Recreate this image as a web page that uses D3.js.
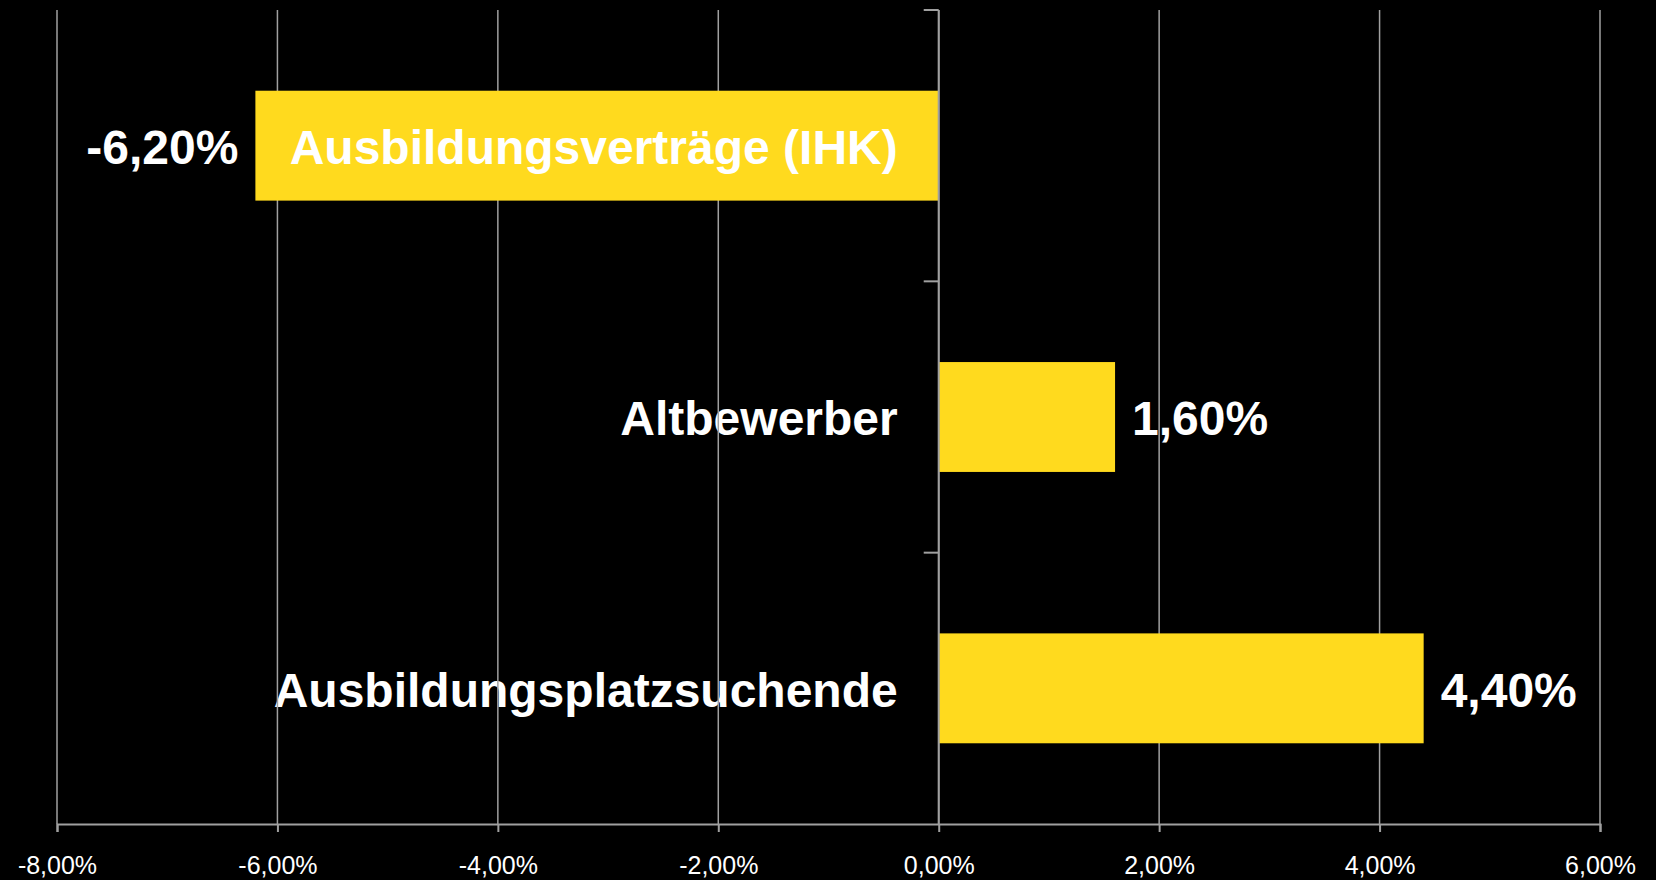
<!DOCTYPE html>
<html>
<head>
<meta charset="utf-8">
<script src="https://cdn.jsdelivr.net/npm/d3@7"></script>
<style>
  html, body { margin: 0; padding: 0; background: #000; }
  svg { display: block; }
</style>
</head>
<body>
<svg id="chart" width="1656" height="880"></svg>
<script>
// Data
const categories = ['Ausbildungsverträge (IHK)', 'Altbewerber', 'Ausbildungsplatzsuchende'];
const values = [-6.2, 1.6, 4.4];
const tickValues = [-8, -6, -4, -2, 0, 2, 4, 6];

const width = 1656;
const height = 880;
const plot = { left: 57, right: 1600, top: 10, bottom: 824 };

const gridColor = '#a0a0a0';
const barColor = '#ffda1e';
const font = 'Liberation Sans, Arial, sans-serif';

const de = d3.formatLocale({
  decimal: ',', thousands: '.', grouping: [3], currency: ['', ' €'], minus: '-',
});
const fmt = v => de.format('.2f')(v) + '%';

const data = categories.map((c, i) => ({ cat: c, value: values[i] }));

const x = d3.scaleLinear()
  .domain([tickValues[0], tickValues[tickValues.length - 1]])
  .range([plot.left, plot.right]);

const y = d3.scaleBand()
  .domain(categories)
  .range([plot.top, plot.bottom])
  .paddingInner(0.595)
  .paddingOuter(0.2975);

const svg = d3.select('#chart');
svg.append('rect').attr('width', width).attr('height', height).attr('fill', '#000');

// labels sitting under the gridlines
const below = svg.append('g').attr('class', 'labels-below');
const grid = svg.append('g').attr('class', 'grid');
const bars = svg.append('g').attr('class', 'bars');
const axis = svg.append('g').attr('class', 'axis');
const above = svg.append('g').attr('class', 'labels-above');

grid.selectAll('line')
  .data(tickValues)
  .join('line')
    .attr('x1', d => x(d)).attr('x2', d => x(d))
    .attr('y1', plot.top).attr('y2', plot.bottom)
    .attr('stroke', gridColor)
    .attr('stroke-width', 1.5);

bars.selectAll('rect')
  .data(data)
  .join('rect')
    .attr('x', d => x(Math.min(0, d.value)))
    .attr('width', d => Math.abs(x(d.value) - x(0)))
    .attr('y', d => y(d.cat))
    .attr('height', y.bandwidth())
    .attr('fill', barColor);

// x axis
const xAxis = d3.axisBottom(x)
  .tickValues(tickValues)
  .tickSize(8)
  .tickPadding(24)
  .tickFormat(fmt);

const gx = axis.append('g')
  .attr('transform', `translate(0, ${plot.bottom})`)
  .call(xAxis);
gx.select('.domain').attr('stroke', gridColor).attr('stroke-width', 2);
gx.selectAll('.tick line').attr('stroke', gridColor).attr('stroke-width', 2);
gx.selectAll('.tick text')
  .attr('fill', '#fff')
  .attr('font-family', font)
  .attr('font-size', 25)
  .attr('dy', '0.71em');

// y axis at zero with ticks on category boundaries
const step = y.step();
const bounds = d3.range(categories.length + 1).map(i => plot.top + i * step);
axis.append('line')
  .attr('x1', x(0)).attr('x2', x(0))
  .attr('y1', plot.top).attr('y2', plot.bottom)
  .attr('stroke', gridColor).attr('stroke-width', 2);
axis.selectAll('.ytick')
  .data(bounds.slice(0, -1))
  .join('line')
    .attr('class', 'ytick')
    .attr('x1', x(0) - 15).attr('x2', x(0))
    .attr('y1', d => d).attr('y2', d => d)
    .attr('stroke', gridColor).attr('stroke-width', 2);

// value labels
below.selectAll('.value')
  .data(data)
  .join('text')
    .attr('class', 'value')
    .attr('x', d => d.value < 0 ? x(d.value) - 17 : x(d.value) + 17)
    .attr('y', d => y(d.cat) + y.bandwidth() / 2)
    .attr('dy', '0.38em')
    .attr('text-anchor', d => d.value < 0 ? 'end' : 'start')
    .attr('fill', '#fff')
    .attr('font-family', font)
    .attr('font-weight', 'bold')
    .attr('font-size', 48)
    .text(d => fmt(d.value));

// category labels: inside the bar when negative, otherwise beside the axis
function catLabels(g, rows) {
  g.selectAll('.cat')
    .data(rows)
    .join('text')
      .attr('class', 'cat')
      .attr('x', x(0) - 41)
      .attr('y', d => y(d.cat) + y.bandwidth() / 2)
      .attr('dy', '0.38em')
      .attr('text-anchor', 'end')
      .attr('fill', '#fff')
      .attr('font-family', font)
      .attr('font-weight', 'bold')
      .attr('font-size', 48)
      .text(d => d.cat);
}
catLabels(below, data.filter(d => d.value >= 0));
catLabels(above, data.filter(d => d.value < 0));
</script>
</body>
</html>
